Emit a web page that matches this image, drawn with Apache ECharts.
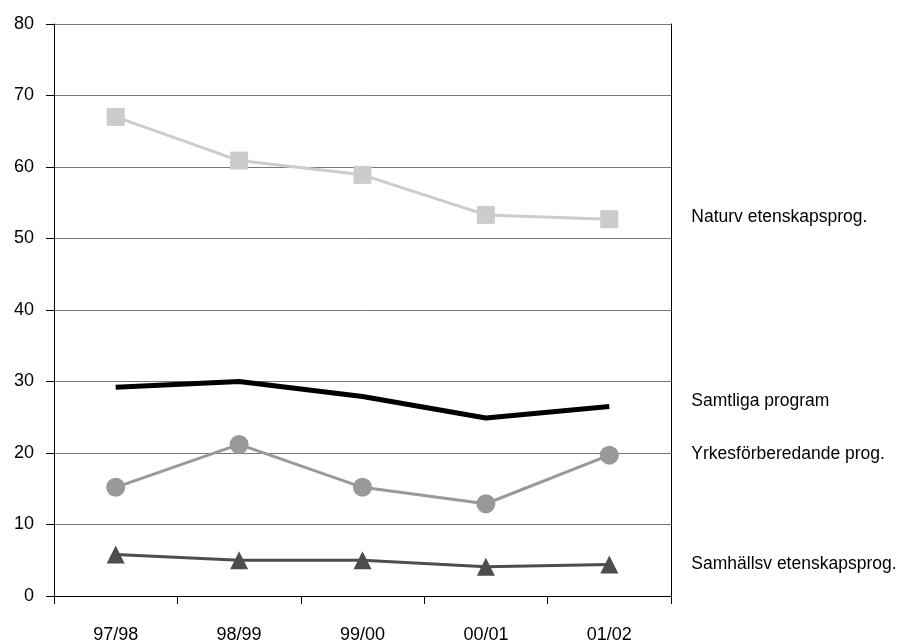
<!DOCTYPE html>
<html><head><meta charset="utf-8">
<script src="https://cdn.jsdelivr.net/npm/echarts@6/dist/echarts.min.js"></script>
<style>html,body{margin:0;padding:0;background:#fff}#c{width:905px;height:644px}</style>
</head><body><div id="c"></div>
<script>
const categories = ['97/98','98/99','99/00','00/01','01/02'];
const naturv = [67.0, 60.9, 58.9, 53.3, 52.7];
const samtliga = [29.2, 30.0, 27.9, 24.9, 26.5];
const yrkes = [15.2, 21.2, 15.2, 12.9, 19.7];
const samhalls = [5.8, 5.0, 5.0, 4.1, 4.4];
const names = ['Naturv etenskapsprog.', 'Samtliga program', 'Yrkesförberedande prog.', 'Samhällsv etenskapsprog.'];
const yTicks = {min: 0, max: 80, interval: 10};

const font = 'Liberation Sans, Arial, sans-serif';
const chart = echarts.init(document.getElementById('c'));
function endLbl(dy){
  return {show:true, formatter:'{a}', distance:82, offset:[0,dy], color:'#000', fontFamily:font, fontSize:17.5};
}
chart.setOption({
  animation:false,
  backgroundColor:'#fff',
  grid:{left:54, right:234, top:24, bottom:47},
  xAxis:{type:'category', data:categories, boundaryGap:true,
    axisLine:{lineStyle:{color:'#000', width:1}},
    axisTick:{show:true, length:8, lineStyle:{color:'#000'}},
    axisLabel:{color:'#000', fontFamily:font, fontSize:18, margin:30}},
  yAxis:[{type:'value', min:yTicks.min, max:yTicks.max, interval:yTicks.interval,
    axisLine:{show:true, lineStyle:{color:'#000', width:1}},
    axisTick:{show:true, length:8, lineStyle:{color:'#000'}},
    axisLabel:{color:'#000', fontFamily:font, fontSize:18, margin:20},
    splitLine:{lineStyle:{color:'#777', width:1}}},
   {type:'value', position:'right', min:yTicks.min, max:yTicks.max, interval:yTicks.interval,
    axisLine:{show:true, lineStyle:{color:'#000', width:1}},
    axisTick:{show:false}, axisLabel:{show:false}, splitLine:{show:false}}],
  series:[
    {name:names[0], type:'line', data:naturv, symbol:'rect', symbolSize:18,
     lineStyle:{color:'#cccccc', width:3}, itemStyle:{color:'#cccccc'}, endLabel:endLbl(-2)},
    {name:names[1], type:'line', data:samtliga, symbol:'none',
     lineStyle:{color:'#000', width:5}, itemStyle:{color:'#000'}, endLabel:endLbl(-5)},
    {name:names[2], type:'line', data:yrkes, symbol:'circle', symbolSize:19,
     lineStyle:{color:'#999999', width:3}, itemStyle:{color:'#999999'}, endLabel:endLbl(-1)},
    {name:names[3], type:'line', data:samhalls, symbol:'triangle', symbolSize:18,
     lineStyle:{color:'#4d4d4d', width:3}, itemStyle:{color:'#4d4d4d'}, endLabel:endLbl(0)}
  ]
});
</script></body></html>
